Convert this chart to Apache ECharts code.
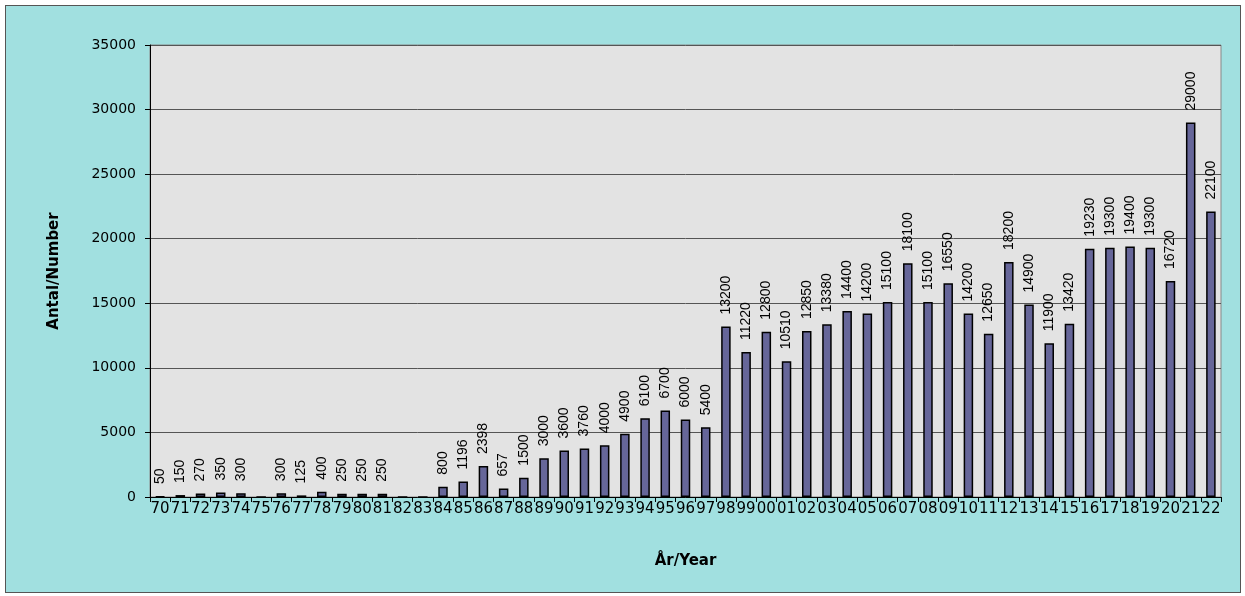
<!DOCTYPE html>
<html><head><meta charset="utf-8">
<script src="https://cdn.jsdelivr.net/npm/echarts@6/dist/echarts.min.js"></script>
<style>
html,body{margin:0;padding:0;background:#fff;}
#frame{position:absolute;left:5px;top:5px;width:1234px;height:586px;background:#a1e0e0;border:1px solid #555;}
#c{position:absolute;left:0;top:0;width:1245px;height:596px;}
</style></head>
<body><div id="frame"></div><div id="c"></div>
<script>
const categories = ["70","71","72","73","74","75","76","77","78","79","80","81","82","83","84","85","86","87","88","89","90","91","92","93","94","95","96","97","98","99","00","01","02","03","04","05","06","07","08","09","10","11","12","13","14","15","16","17","18","19","20","21","22"];
const values = [50,150,270,350,300,0,300,125,400,250,250,250,0,0,800,1196,2398,657,1500,3000,3600,3760,4000,4900,6100,6700,6000,5400,13200,11220,12800,10510,12850,13380,14400,14200,15100,18100,15100,16550,14200,12650,18200,14900,11900,13420,19230,19300,19400,19300,16720,29000,22100];
const yTicks = {min:0, max:35000, interval:5000};

const chart = echarts.init(document.getElementById('c'));
chart.setOption({
  animation:false,
  backgroundColor:'transparent',
  grid:{left:150, right:24, top:45, bottom:99, show:true, backgroundColor:'#e3e3e3', borderColor:'#888', borderWidth:1},
  xAxis:{type:'category', data:categories,
    name:'År/Year', nameLocation:'middle', nameGap:57,
    nameTextStyle:{fontFamily:'DejaVu Sans', fontWeight:'bold', fontSize:15, color:'#000'},
    axisLine:{lineStyle:{color:'#000', width:1}},
    axisTick:{show:true, alignWithLabel:false, length:5, lineStyle:{color:'#000'}},
    axisLabel:{interval:0, fontFamily:'DejaVu Sans', fontSize:15, color:'#000', margin:5}
  },
  yAxis:{type:'value', min:yTicks.min, max:yTicks.max, interval:yTicks.interval,
    name:'Antal/Number', nameLocation:'middle', nameGap:88, nameRotate:90,
    nameTextStyle:{fontFamily:'DejaVu Sans', fontWeight:'bold', fontSize:15, color:'#000'},
    axisLine:{show:true, lineStyle:{color:'#000'}},
    axisTick:{show:true, length:5, lineStyle:{color:'#000'}},
    axisLabel:{fontFamily:'DejaVu Sans', fontSize:14, color:'#000', margin:14, formatter:v=>String(v)},
    splitLine:{lineStyle:{color:'#555', width:1}}
  },
  series:[{type:'bar', data:values, barWidth:'47%',
    itemStyle:{color:'#666699', borderColor:'#000', borderWidth:1.5},
    label:{show:true, position:'top', rotate:90, align:'left', verticalAlign:'middle', distance:12,
      fontFamily:'Liberation Sans, Arial, sans-serif', fontSize:14, color:'#000',
      formatter:p=>p.value>0?String(p.value):''}
  }]
});
</script></body></html>
